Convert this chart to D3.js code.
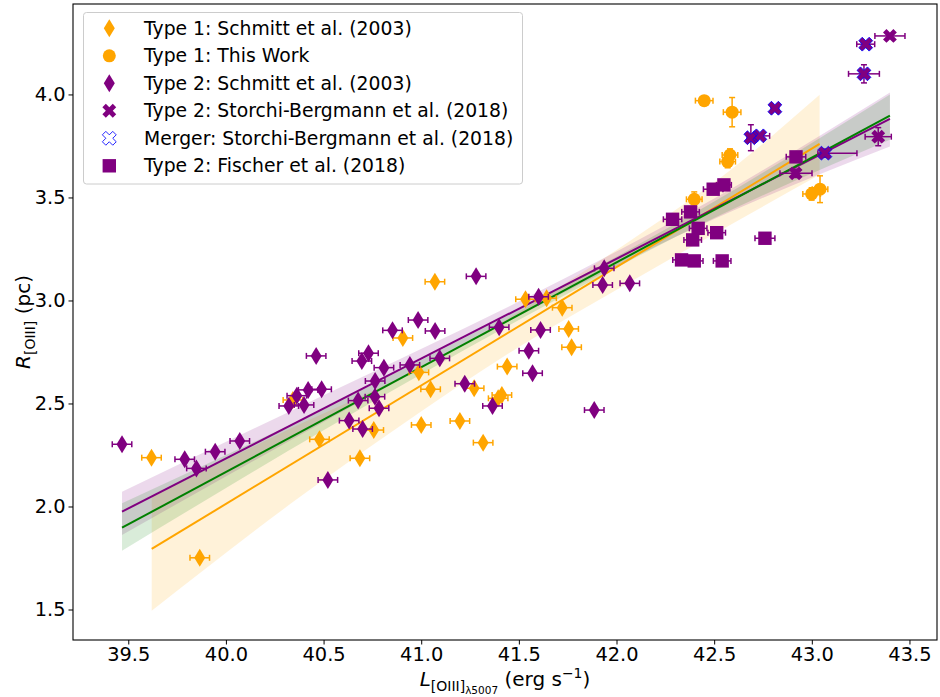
<!DOCTYPE html>
<html><head><meta charset="utf-8">
<script src="https://cdn.jsdelivr.net/npm/d3@7"></script>
<style>body{margin:0;background:#fff} svg{font-family:"DejaVu Sans",sans-serif}</style>
</head><body><svg id="c" width="940" height="697"></svg>
<script>
// ---------- data ----------
const xTicks = [39.5, 40.0, 40.5, 41.0, 41.5, 42.0, 42.5, 43.0, 43.5];
const yTicks = [1.5, 2.0, 2.5, 3.0, 3.5, 4.0];

// Type 1: Schmitt et al. (2003)
const t1SchmittX = [39.619, 39.866, 40.343, 40.479, 40.686, 40.757, 40.906, 40.988, 41.000, 41.048, 41.070,
  41.198, 41.271, 41.317, 41.394, 41.413, 41.440, 41.534, 41.642, 41.722, 41.755, 41.770];
const t1SchmittY = [2.237, 1.751, 2.517, 2.326, 2.234, 2.371, 2.818, 2.651, 2.396, 2.569, 3.091,
  2.415, 2.574, 2.310, 2.525, 2.541, 2.679, 3.006, 3.011, 2.965, 2.862, 2.773];
const schmittXerr = 0.05;

// Type 1: This Work
const t1ThisX = [42.449, 42.592, 42.581, 42.569, 42.398, 43.042, 42.999];
const t1ThisY = [3.970, 3.914, 3.706, 3.674, 3.491, 3.540, 3.517];
const t1ThisXerr = [0.045, 0.045, 0.04, 0.04, 0.04, 0.04, 0.045];
const t1ThisYerr = [0.02, 0.071, 0.03, 0.03, 0.036, 0.065, 0.03];

// Type 2: Schmitt et al. (2003)
const t2SchmittX = [39.468, 39.789, 39.849, 39.945, 40.071, 40.522, 40.322, 40.363, 40.400, 40.421, 40.490,
  40.462, 40.631, 40.677, 40.700, 40.696, 40.730, 40.809, 40.764, 40.763, 40.784, 40.853, 40.942, 40.984,
  41.071, 41.095, 41.223, 41.281, 41.365, 41.399, 41.551, 41.570, 41.611, 41.601, 41.886, 41.937, 41.929, 42.068];
const t2SchmittY = [2.302, 2.229, 2.185, 2.266, 2.318, 2.129, 2.488, 2.538, 2.493, 2.566, 2.569,
  2.731, 2.417, 2.514, 2.376, 2.706, 2.744, 2.674, 2.609, 2.533, 2.477, 2.855, 2.687, 2.905,
  2.852, 2.719, 2.596, 3.117, 2.488, 2.870, 2.756, 2.647, 2.857, 3.018, 2.468, 3.156, 3.075, 3.083];

// Type 2: Storchi-Bergmann et al. (2018) (merger flag marks the merger systems)
const storchiX = [42.811, 42.688, 42.734, 43.276, 43.400, 43.267, 43.067, 43.340, 42.917];
const storchiY = [3.933, 3.790, 3.799, 4.244, 4.284, 4.100, 3.715, 3.795, 3.617];
const storchiXerrLo = [0.02, 0.02, 0.03, 0.046, 0.077, 0.079, 0.036, 0.067, 0.08];
const storchiXerrHi = [0.02, 0.02, 0.05, 0.046, 0.077, 0.079, 0.164, 0.067, 0.084];
const storchiYerr = [0.0, 0.063, 0.0, 0.015, 0.0, 0.044, 0.02, 0.044, 0.02];
const storchiMerger = [true, true, true, true, false, true, true, false, false];

// Type 2: Fischer et al. (2018)
const fischerX = [42.919, 42.550, 42.495, 42.287, 42.379, 42.418, 42.513, 42.390, 42.760, 42.333, 42.398, 42.541];
const fischerY = [3.697, 3.561, 3.540, 3.394, 3.430, 3.350, 3.329, 3.294, 3.302, 3.197, 3.192, 3.192];
const fischerXerr = [0.05, 0.038, 0.05, 0.047, 0.045, 0.045, 0.045, 0.045, 0.051, 0.045, 0.045, 0.045];

// regression lines (end points) and confidence bands
const fitT1X = [39.62, 43.04], fitT1Y = [1.794, 3.760];
const fitT2X = [39.468, 43.40], fitT2Y = [1.975, 3.881];
const fitAllX = [39.468, 43.40], fitAllY = [1.897, 3.897];

const bandT1X  = [39.62, 40.38, 40.89, 41.5, 42.07, 42.6, 43.04];
const bandT1Lo = [1.494, 2.047, 2.390, 2.774, 3.090, 3.376, 3.610];
const bandT1Hi = [2.048, 2.400, 2.624, 2.944, 3.290, 3.646, 3.998];

const bandT2X  = [39.468, 40.5, 41.5, 42.5, 43.40];
const bandT2Lo = [1.862, 2.410, 2.925, 3.395, 3.747];
const bandT2Hi = [2.072, 2.540, 2.995, 3.495, 4.009];

const bandAllX  = [39.468, 40.5, 41.5, 42.5, 43.40];
const bandAllLo = [1.785, 2.370, 2.905, 3.400, 3.780];
const bandAllHi = [2.016, 2.475, 2.957, 3.480, 4.000];

const legendLabels = ["Type 1: Schmitt et al. (2003)", "Type 1: This Work", "Type 2: Schmitt et al. (2003)",
  "Type 2: Storchi-Bergmann et al. (2018)", "Merger: Storchi-Bergmann et al. (2018)", "Type 2: Fischer et al. (2018)"];

// ---------- drawing ----------
const ORANGE = "#ffa500", PURPLE = "#800080", GREEN = "#008000", BLUE = "#0000ff";
const L = 73, R = 937, T = 4, B = 640;
const svg = d3.select("#c");
const x = d3.scaleLinear().domain([39.217, 43.641]).range([L, R]);
const y = d3.scaleLinear().domain([1.352, 4.439]).range([B, T]);

const plot = svg.append("g");

// bands
function band(xs, lo, hi, color) {
  const pts = xs.map((v, i) => ({x: v, lo: lo[i], hi: hi[i]}));
  plot.append("path").datum(pts)
    .attr("d", d3.area().x(d => x(d.x)).y0(d => y(d.lo)).y1(d => y(d.hi)).curve(d3.curveMonotoneX))
    .attr("fill", color).attr("fill-opacity", 0.15).attr("stroke", "none");
}
band(bandT1X, bandT1Lo, bandT1Hi, ORANGE);
band(bandT2X, bandT2Lo, bandT2Hi, PURPLE);
band(bandAllX, bandAllLo, bandAllHi, GREEN);

function fitLine(xs, ys, color) {
  plot.append("path").datum(xs.map((v, i) => [v, ys[i]]))
    .attr("d", d3.line().x(d => x(d[0])).y(d => y(d[1])))
    .attr("stroke", color).attr("stroke-width", 2).attr("fill", "none");
}
fitLine(fitT1X, fitT1Y, ORANGE);
fitLine(fitT2X, fitT2Y, PURPLE);
fitLine(fitAllX, fitAllY, GREEN);

// markers
const diamondPath = "M0,-9L5.5,0L0,9L-5.5,0Z";
const xSym = d3.symbol().type(d3.symbolCross).size(120)();
const CAP = 3;

function errbars(g, pts, color) {
  pts.forEach(p => {
    const cx = x(p.x), cy = y(p.y);
    if (p.xlo || p.xhi) {
      const x0 = x(p.x - p.xlo), x1 = x(p.x + p.xhi);
      g.append("line").attr("x1", x0).attr("x2", x1).attr("y1", cy).attr("y2", cy)
        .attr("stroke", color).attr("stroke-width", 1.5);
      [x0, x1].forEach(xx => g.append("line").attr("x1", xx).attr("x2", xx)
        .attr("y1", cy - CAP).attr("y2", cy + CAP).attr("stroke", color).attr("stroke-width", 1.5));
    }
    if (p.ye) {
      const y0 = y(p.y - p.ye), y1 = y(p.y + p.ye);
      g.append("line").attr("x1", cx).attr("x2", cx).attr("y1", y0).attr("y2", y1)
        .attr("stroke", color).attr("stroke-width", 1.5);
      [y0, y1].forEach(yy => g.append("line").attr("y1", yy).attr("y2", yy)
        .attr("x1", cx - CAP).attr("x2", cx + CAP).attr("stroke", color).attr("stroke-width", 1.5));
    }
  });
}

function drawMarker(g, kind, cx, cy, color) {
  if (kind === "diamond") {
    g.append("path").attr("d", diamondPath).attr("transform", `translate(${cx},${cy})`).attr("fill", color);
  } else if (kind === "circle") {
    g.append("circle").attr("cx", cx).attr("cy", cy).attr("r", 6.5).attr("fill", color);
  } else if (kind === "square") {
    g.append("rect").attr("x", cx - 6.7).attr("y", cy - 6.7).attr("width", 13.4).attr("height", 13.4).attr("fill", color);
  } else if (kind === "x") {
    g.append("path").attr("d", xSym).attr("transform", `translate(${cx},${cy}) rotate(45)`).attr("fill", color);
  } else if (kind === "xopen") {
    g.append("path").attr("d", xSym).attr("transform", `translate(${cx},${cy}) rotate(45)`)
      .attr("fill", "none").attr("stroke", color).attr("stroke-width", 0.8);
  }
}

const gT1S = plot.append("g");
const t1S = t1SchmittX.map((v, i) => ({x: v, y: t1SchmittY[i], xlo: schmittXerr, xhi: schmittXerr}));
errbars(gT1S, t1S, ORANGE);
t1S.forEach(p => drawMarker(gT1S, "diamond", x(p.x), y(p.y), ORANGE));

const gT1T = plot.append("g");
const t1T = t1ThisX.map((v, i) => ({x: v, y: t1ThisY[i], xlo: t1ThisXerr[i], xhi: t1ThisXerr[i], ye: t1ThisYerr[i]}));
errbars(gT1T, t1T, ORANGE);
t1T.forEach(p => drawMarker(gT1T, "circle", x(p.x), y(p.y), ORANGE));

const gT2S = plot.append("g");
const t2S = t2SchmittX.map((v, i) => ({x: v, y: t2SchmittY[i], xlo: schmittXerr, xhi: schmittXerr}));
errbars(gT2S, t2S, PURPLE);
t2S.forEach(p => drawMarker(gT2S, "diamond", x(p.x), y(p.y), PURPLE));

const gSt = plot.append("g");
const st = storchiX.map((v, i) => ({x: v, y: storchiY[i], xlo: storchiXerrLo[i], xhi: storchiXerrHi[i], ye: storchiYerr[i], m: storchiMerger[i]}));
errbars(gSt, st, PURPLE);
st.forEach(p => drawMarker(gSt, "x", x(p.x), y(p.y), PURPLE));
st.filter(p => p.m).forEach(p => drawMarker(gSt, "xopen", x(p.x), y(p.y), BLUE));

const gF = plot.append("g");
const fi = fischerX.map((v, i) => ({x: v, y: fischerY[i], xlo: fischerXerr[i], xhi: fischerXerr[i]}));
errbars(gF, fi, PURPLE);
fi.forEach(p => drawMarker(gF, "square", x(p.x), y(p.y), PURPLE));

// axes
const fmt = d3.format(".1f");
const ax = svg.append("g").attr("transform", `translate(0,${B})`)
  .call(d3.axisBottom(x).tickValues(xTicks).tickFormat(fmt).tickSize(4.5).tickPadding(3).tickSizeOuter(0));
const ay = svg.append("g").attr("transform", `translate(${L},0)`)
  .call(d3.axisLeft(y).tickValues(yTicks).tickFormat(fmt).tickSize(4.5).tickPadding(3).tickSizeOuter(0));
[ax, ay].forEach(g => {
  g.select(".domain").remove();
  g.selectAll("text").attr("font-size", 19.4).attr("font-family", "DejaVu Sans").attr("fill", "#000");
  g.selectAll("line").attr("stroke", "#000").attr("stroke-width", 1);
});

svg.append("rect").attr("x", L).attr("y", T).attr("width", R - L).attr("height", B - T)
  .attr("fill", "none").attr("stroke", "#000").attr("stroke-width", 1.1);

// axis labels
const xl = svg.append("text").attr("x", (L + R) / 2).attr("y", 686).attr("text-anchor", "middle")
  .attr("font-size", 20).attr("fill", "#000");
xl.append("tspan").attr("font-style", "italic").text("L");
xl.append("tspan").attr("font-size", 14).attr("dy", 4.5).text("[OIII]");
xl.append("tspan").attr("font-size", 10.5).attr("dy", 3).text("λ5007");
xl.append("tspan").attr("dy", -7.5).text(" (erg s");
xl.append("tspan").attr("font-size", 14).attr("dy", -8).text("−1");
xl.append("tspan").attr("dy", 8).text(")");

const yl = svg.append("text").attr("transform", `translate(30,${(T + B) / 2}) rotate(-90)`)
  .attr("text-anchor", "middle").attr("font-size", 20).attr("fill", "#000");
yl.append("tspan").attr("font-style", "italic").text("R");
yl.append("tspan").attr("font-size", 14).attr("dy", 4.5).text("[OIII]");
yl.append("tspan").attr("dy", -4.5).text(" (pc)");

// legend
const lg = svg.append("g");
lg.append("rect").attr("x", 83.5).attr("y", 12.5).attr("width", 439).attr("height", 171.5).attr("rx", 3)
  .attr("fill", "#fff").attr("fill-opacity", 0.8).attr("stroke", "#cccccc").attr("stroke-width", 1);
const legKinds = [["diamond", ORANGE], ["circle", ORANGE], ["diamond", PURPLE], ["x", PURPLE], ["xopen", BLUE], ["square", PURPLE]];
legendLabels.forEach((lab, i) => {
  const cy = 28.3 + i * 27.5;
  drawMarker(lg, legKinds[i][0], 109.3, cy, legKinds[i][1]);
  lg.append("text").attr("x", 144).attr("y", cy).attr("dy", "0.35em").attr("font-size", 18.8).attr("fill", "#000").text(lab);
});
</script>
</body></html>
